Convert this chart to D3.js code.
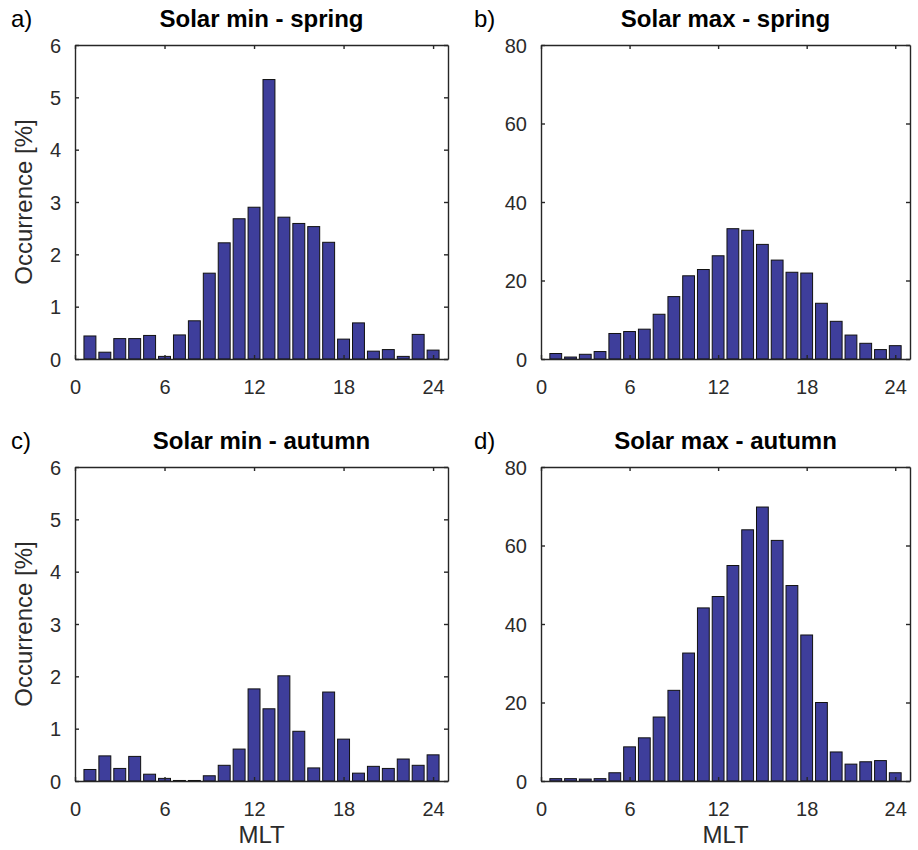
<!DOCTYPE html>
<html>
<head>
<meta charset="utf-8">
<script src="https://cdn.jsdelivr.net/npm/d3@7"></script>
<style>
  body { margin: 0; background: #fff; }
  text { font-family: "Liberation Sans", Arial, Helvetica, sans-serif; }
</style>
</head>
<body>
<div id="chart"></div>
<script>
var W = 918, H = 850;

// MLT bins (hour centres)
var mlt = [1, 2, 3, 4, 5, 6, 7, 8, 9, 10, 11, 12, 13, 14, 15, 16, 17, 18, 19, 20, 21, 22, 23, 24];
var xTicks = [0, 6, 12, 18, 24];

// occurrence [%] per panel
var minSpring = [0.44, 0.13, 0.39, 0.39, 0.45, 0.05, 0.46, 0.73, 1.64, 2.22, 2.68, 2.90,
                 5.34, 2.71, 2.59, 2.53, 2.23, 0.38, 0.69, 0.15, 0.18, 0.05, 0.47, 0.17];
var maxSpring = [1.4, 0.5, 1.2, 1.9, 6.5, 7.0, 7.6, 11.4, 15.9, 21.2, 22.8, 26.3,
                 33.2, 32.8, 29.2, 25.2, 22.1, 21.9, 14.2, 9.6, 6.1, 4.0, 2.4, 3.4];
var minAutumn = [0.22, 0.48, 0.24, 0.47, 0.13, 0.05, 0.01, 0.01, 0.10, 0.30, 0.61, 1.76,
                 1.38, 2.01, 0.95, 0.25, 1.70, 0.80, 0.15, 0.28, 0.24, 0.42, 0.30, 0.50];
var maxAutumn = [0.6, 0.6, 0.5, 0.6, 2.1, 8.7, 11.0, 16.3, 23.1, 32.6, 44.1, 47.0,
                 54.9, 64.0, 69.8, 61.3, 49.8, 37.2, 20.0, 7.4, 4.3, 4.9, 5.2, 2.1];

var minTicks = [0, 1, 2, 3, 4, 5, 6];
var maxTicks = [0, 20, 40, 60, 80];

var titles = ["Solar min - spring", "Solar max - spring", "Solar min - autumn", "Solar max - autumn"];
var letters = ["a)", "b)", "c)", "d)"];

var panels = [
    { values: minSpring, ymax: 6,  yticks: minTicks, x0: 75,  x1: 448, y0: 45,  y1: 359, lx: 11,  ylabel: true,  xlabel: false },
    { values: maxSpring, ymax: 80, yticks: maxTicks, x0: 541, x1: 910, y0: 45,  y1: 359, lx: 474, ylabel: false, xlabel: false },
    { values: minAutumn, ymax: 6,  yticks: minTicks, x0: 75,  x1: 448, y0: 467, y1: 781, lx: 11,  ylabel: true,  xlabel: true },
    { values: maxAutumn, ymax: 80, yticks: maxTicks, x0: 541, x1: 910, y0: 467, y1: 781, lx: 474, ylabel: false, xlabel: true }
];

var barFill = "#3e3e9b";
var axisColor = "#262626";
var tickText = "#2b2b2b";
var tickLen = 4;

var svg = d3.select("#chart")
    .append("svg")
    .attr("width", W)
    .attr("height", H);

panels.forEach(function (p, k) {
    var x = d3.scaleLinear().domain([0, 25]).range([p.x0, p.x1]);
    var y = d3.scaleLinear().domain([0, p.ymax]).range([p.y1, p.y0]);
    var g = svg.append("g");

    // bars
    g.selectAll("rect.bar")
        .data(p.values)
        .enter()
        .append("rect")
        .attr("class", "bar")
        .attr("x", function (d, i) { return x(mlt[i] - 0.4); })
        .attr("width", x(0.8) - x(0))
        .attr("y", function (d) { return y(d); })
        .attr("height", function (d) { return y(0) - y(d); })
        .attr("fill", barFill)
        .attr("stroke", "#111")
        .attr("stroke-width", 1);

    // axes, ticks inward on all four sides
    var bottom = g.append("g").attr("transform", "translate(0," + p.y1 + ")")
        .call(d3.axisBottom(x).tickValues(xTicks).tickSizeInner(-tickLen).tickSizeOuter(0).tickPadding(21));
    var top = g.append("g").attr("transform", "translate(0," + p.y0 + ")")
        .call(d3.axisTop(x).tickValues(xTicks).tickSizeInner(-tickLen).tickSizeOuter(0).tickFormat(""));
    var left = g.append("g").attr("transform", "translate(" + p.x0 + ",0)")
        .call(d3.axisLeft(y).tickValues(p.yticks).tickSizeInner(-tickLen).tickSizeOuter(0)
            .tickPadding(14).tickFormat(d3.format("d")));
    var right = g.append("g").attr("transform", "translate(" + p.x1 + ",0)")
        .call(d3.axisRight(y).tickValues(p.yticks).tickSizeInner(-tickLen).tickSizeOuter(0).tickFormat(""));

    [bottom, top, left, right].forEach(function (a) {
        a.select(".domain").attr("stroke", axisColor).attr("stroke-width", 1.4);
        a.selectAll(".tick line").attr("stroke", axisColor).attr("stroke-width", 1.4);
        a.selectAll(".tick text")
            .attr("fill", tickText)
            .attr("font-size", 20)
            .style("font-family", "'Liberation Sans', Arial, sans-serif");
    });
    left.selectAll(".tick text").attr("dy", "0.36em");

    // title
    svg.append("text")
        .attr("x", (p.x0 + p.x1) / 2)
        .attr("y", p.y0 - 18)
        .attr("text-anchor", "middle")
        .attr("font-size", 24)
        .attr("font-weight", "bold")
        .attr("fill", "#000")
        .text(titles[k]);

    // panel letter
    svg.append("text")
        .attr("x", p.lx)
        .attr("y", p.y0 - 18)
        .attr("font-size", 24)
        .attr("fill", "#000")
        .text(letters[k]);

    if (p.ylabel) {
        svg.append("text")
            .attr("transform", "translate(" + 32 + "," + ((p.y0 + p.y1) / 2) + ") rotate(-90)")
            .attr("text-anchor", "middle")
            .attr("font-size", 24)
            .attr("fill", tickText)
            .text("Occurrence [%]");
    }
    if (p.xlabel) {
        svg.append("text")
            .attr("x", (p.x0 + p.x1) / 2)
            .attr("y", p.y1 + 62)
            .attr("text-anchor", "middle")
            .attr("font-size", 24)
            .attr("fill", tickText)
            .text("MLT");
    }
});
</script>
</body>
</html>
